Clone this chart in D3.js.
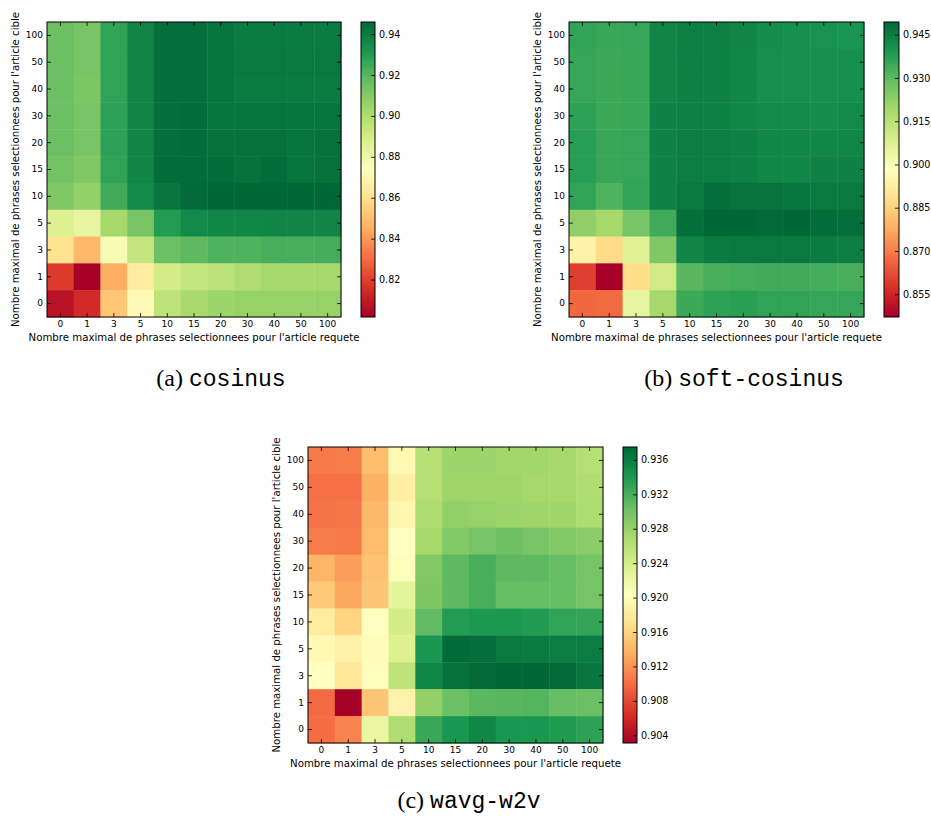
<!DOCTYPE html>
<html><head><meta charset="utf-8">
<script src="https://cdn.jsdelivr.net/npm/d3@7"></script>
<style>body{margin:0;background:#fff}svg{display:block}</style>
</head><body>
<svg id="chart" width="931" height="816"></svg>
<script>
// ---------- DATA ----------
const xCategories = ["0","1","3","5","10","15","20","30","40","50","100"];
// rows listed from top (100) to bottom (0)
const yCategoriesTopDown = ["100","50","40","30","20","15","10","5","3","1","0"];

const cosinusValues = [
  [0.9156, 0.9127, 0.9272, 0.9372, 0.9437, 0.9437, 0.9423, 0.9401, 0.9401, 0.9401, 0.9401],
  [0.9156, 0.9127, 0.9272, 0.9372, 0.9437, 0.9437, 0.9423, 0.9409, 0.9409, 0.9409, 0.9409],
  [0.9156, 0.9120, 0.9272, 0.9372, 0.9437, 0.9437, 0.9423, 0.9401, 0.9401, 0.9401, 0.9401],
  [0.9156, 0.9127, 0.9279, 0.9372, 0.9437, 0.9445, 0.9423, 0.9423, 0.9423, 0.9423, 0.9423],
  [0.9156, 0.9127, 0.9279, 0.9372, 0.9437, 0.9445, 0.9430, 0.9430, 0.9430, 0.9423, 0.9430],
  [0.9142, 0.9113, 0.9272, 0.9372, 0.9445, 0.9445, 0.9445, 0.9430, 0.9445, 0.9423, 0.9430],
  [0.9113, 0.9070, 0.9243, 0.9358, 0.9416, 0.9452, 0.9459, 0.9459, 0.9459, 0.9459, 0.9459],
  [0.8868, 0.8825, 0.9026, 0.9127, 0.9300, 0.9358, 0.9365, 0.9365, 0.9372, 0.9372, 0.9372],
  [0.8608, 0.8478, 0.8767, 0.8940, 0.9156, 0.9185, 0.9214, 0.9214, 0.9228, 0.9228, 0.9235],
  [0.8190, 0.8017, 0.8450, 0.8651, 0.8897, 0.8947, 0.8969, 0.8998, 0.9026, 0.9026, 0.9026],
  [0.8075, 0.8147, 0.8522, 0.8709, 0.8962, 0.9019, 0.9048, 0.9062, 0.9062, 0.9062, 0.9062]
];

const softCosinusValues = [
  [0.9361, 0.9351, 0.9356, 0.9433, 0.9443, 0.9443, 0.9433, 0.9417, 0.9407, 0.9402, 0.9397],
  [0.9356, 0.9346, 0.9351, 0.9433, 0.9443, 0.9438, 0.9428, 0.9407, 0.9407, 0.9407, 0.9407],
  [0.9356, 0.9346, 0.9351, 0.9433, 0.9443, 0.9438, 0.9428, 0.9407, 0.9407, 0.9407, 0.9407],
  [0.9366, 0.9346, 0.9351, 0.9438, 0.9443, 0.9438, 0.9428, 0.9422, 0.9422, 0.9417, 0.9422],
  [0.9376, 0.9351, 0.9356, 0.9438, 0.9448, 0.9448, 0.9438, 0.9428, 0.9428, 0.9428, 0.9428],
  [0.9376, 0.9351, 0.9356, 0.9438, 0.9448, 0.9448, 0.9438, 0.9428, 0.9428, 0.9438, 0.9438],
  [0.9361, 0.9320, 0.9361, 0.9438, 0.9458, 0.9479, 0.9468, 0.9468, 0.9463, 0.9458, 0.9458],
  [0.9223, 0.9187, 0.9264, 0.9341, 0.9479, 0.9494, 0.9494, 0.9489, 0.9494, 0.9484, 0.9479],
  [0.8936, 0.8870, 0.9064, 0.9248, 0.9433, 0.9453, 0.9458, 0.9458, 0.9458, 0.9453, 0.9448],
  [0.8599, 0.8471, 0.8880, 0.9100, 0.9305, 0.9330, 0.9335, 0.9341, 0.9341, 0.9335, 0.9330],
  [0.8665, 0.8670, 0.9044, 0.9187, 0.9346, 0.9366, 0.9371, 0.9361, 0.9361, 0.9356, 0.9356]
];

const wavgW2vValues = [
  [0.9107, 0.9108, 0.9145, 0.9196, 0.9260, 0.9277, 0.9277, 0.9274, 0.9274, 0.9272, 0.9262],
  [0.9102, 0.9102, 0.9136, 0.9186, 0.9262, 0.9275, 0.9275, 0.9275, 0.9272, 0.9272, 0.9265],
  [0.9103, 0.9105, 0.9141, 0.9193, 0.9267, 0.9282, 0.9280, 0.9277, 0.9275, 0.9275, 0.9267],
  [0.9108, 0.9107, 0.9143, 0.9203, 0.9272, 0.9292, 0.9298, 0.9301, 0.9296, 0.9292, 0.9287],
  [0.9139, 0.9126, 0.9148, 0.9206, 0.9291, 0.9310, 0.9320, 0.9310, 0.9310, 0.9306, 0.9298],
  [0.9153, 0.9131, 0.9151, 0.9227, 0.9294, 0.9310, 0.9320, 0.9306, 0.9306, 0.9305, 0.9298],
  [0.9182, 0.9160, 0.9203, 0.9241, 0.9308, 0.9337, 0.9340, 0.9340, 0.9338, 0.9330, 0.9329],
  [0.9196, 0.9188, 0.9200, 0.9234, 0.9341, 0.9372, 0.9370, 0.9363, 0.9361, 0.9360, 0.9360],
  [0.9203, 0.9179, 0.9201, 0.9256, 0.9353, 0.9368, 0.9373, 0.9375, 0.9375, 0.9373, 0.9365],
  [0.9098, 0.9031, 0.9150, 0.9189, 0.9282, 0.9303, 0.9311, 0.9313, 0.9315, 0.9306, 0.9303],
  [0.9100, 0.9112, 0.9222, 0.9265, 0.9327, 0.9341, 0.9353, 0.9341, 0.9341, 0.9339, 0.9332]
];

const cosinusTicks = [0.82, 0.84, 0.86, 0.88, 0.90, 0.92, 0.94];
const softCosinusTicks = [0.855, 0.870, 0.885, 0.900, 0.915, 0.930, 0.945];
const wavgW2vTicks = [0.904, 0.908, 0.912, 0.916, 0.920, 0.924, 0.928, 0.932, 0.936];

const xAxisLabel = "Nombre maximal de phrases selectionnees pour l'article requete";
const yAxisLabel = "Nombre maximal de phrases selectionnees pour l'article cible";

const captionLetters = ["(a)", "(b)", "(c)"];
const captionNames = ["cosinus", "soft-cosinus", "wavg-w2v"];

// ---------- LAYOUT ----------
const panels = [
  { values: cosinusValues, ticks: cosinusTicks, fmt: ".2f",
    plot: {x0: 47, x1: 341, y0: 22, y1: 317}, bar: {x0: 361, x1: 375, y0: 22, y1: 317},
    caption: {x: 221, y: 386} },
  { values: softCosinusValues, ticks: softCosinusTicks, fmt: ".3f",
    plot: {x0: 569, x1: 864, y0: 22, y1: 317}, bar: {x0: 884, x1: 899, y0: 22, y1: 317},
    caption: {x: 744, y: 386} },
  { values: wavgW2vValues, ticks: wavgW2vTicks, fmt: ".3f",
    plot: {x0: 308, x1: 603, y0: 447, y1: 743}, bar: {x0: 623, x1: 637, y0: 447, y1: 743},
    caption: {x: 469, y: 808} }
];

const svg = d3.select("#chart");
const cmapColors = d3.schemeRdYlGn[11]; // red -> green
const cmap = d3.piecewise(d3.interpolateRgb, cmapColors);
const defs = svg.append("defs");
const grad = defs.append("linearGradient").attr("id", "rdylgn")
  .attr("x1", 0).attr("y1", 1).attr("x2", 0).attr("y2", 0);
cmapColors.forEach((c, i) => grad.append("stop")
  .attr("offset", i / (cmapColors.length - 1)).attr("stop-color", c));

const tickFont = "DejaVu Sans, sans-serif";

panels.forEach((p, idx) => {
  const g = svg.append("g");
  const flat = p.values.flat();
  const ext = d3.extent(flat);
  const color = d3.scaleSequential(cmap).domain(ext);

  const x = d3.scaleBand().domain(xCategories).range([p.plot.x0, p.plot.x1]).padding(0);
  const y = d3.scaleBand().domain(yCategoriesTopDown).range([p.plot.y0, p.plot.y1]).padding(0);

  const cells = [];
  p.values.forEach((row, ri) => row.forEach((v, ci) =>
    cells.push({xc: xCategories[ci], yc: yCategoriesTopDown[ri], v})));

  g.append("g").selectAll("rect").data(cells).join("rect")
    .attr("x", d => x(d.xc)).attr("y", d => y(d.yc))
    .attr("width", x.bandwidth() + 0.4).attr("height", y.bandwidth() + 0.4)
    .attr("fill", d => color(d.v));

  // axes (inward ticks, classic matplotlib)
  const styleAxis = sel => {
    sel.select(".domain").remove();
    sel.selectAll(".tick line").attr("stroke", "#000").attr("stroke-width", 0.8);
    sel.selectAll(".tick text").attr("fill", "#000").style("font-family", tickFont).style("font-size", "9px");
  };
  g.append("g").attr("transform", `translate(0,${p.plot.y1})`)
    .call(d3.axisBottom(x).tickSizeInner(-4).tickSizeOuter(0).tickPadding(4)).call(styleAxis);
  g.append("g").attr("transform", `translate(0,${p.plot.y0})`)
    .call(d3.axisTop(x).tickSizeInner(-4).tickSizeOuter(0).tickFormat("")).call(styleAxis);
  g.append("g").attr("transform", `translate(${p.plot.x0},0)`)
    .call(d3.axisLeft(y).tickSizeInner(-4).tickSizeOuter(0).tickPadding(4)).call(styleAxis);
  g.append("g").attr("transform", `translate(${p.plot.x1},0)`)
    .call(d3.axisRight(y).tickSizeInner(-4).tickSizeOuter(0).tickFormat("")).call(styleAxis);

  g.append("rect").attr("x", p.plot.x0).attr("y", p.plot.y0)
    .attr("width", p.plot.x1 - p.plot.x0).attr("height", p.plot.y1 - p.plot.y0)
    .attr("fill", "none").attr("stroke", "#000").attr("stroke-width", 1);

  // axis labels
  g.append("text").attr("x", (p.plot.x0 + p.plot.x1) / 2).attr("y", p.plot.y1 + 24)
    .attr("text-anchor", "middle").style("font-family", tickFont).style("font-size", "10.2px")
    .attr("fill", "#000").text(xAxisLabel);
  const cy = (p.plot.y0 + p.plot.y1) / 2;
  g.append("text").attr("transform", `translate(${p.plot.x0 - 28.5},${cy}) rotate(-90)`)
    .attr("text-anchor", "middle").style("font-family", tickFont).style("font-size", "10.2px")
    .attr("fill", "#000").text(yAxisLabel);

  // colorbar
  const cb = d3.scaleLinear().domain(ext).range([p.bar.y1, p.bar.y0]);
  g.append("rect").attr("x", p.bar.x0).attr("y", p.bar.y0)
    .attr("width", p.bar.x1 - p.bar.x0).attr("height", p.bar.y1 - p.bar.y0)
    .attr("fill", "url(#rdylgn)");
  const cbAxis = g.append("g").attr("transform", `translate(${p.bar.x1},0)`)
    .call(d3.axisRight(cb).tickValues(p.ticks).tickFormat(d3.format(p.fmt))
      .tickSizeInner(-4).tickSizeOuter(0).tickPadding(4));
  cbAxis.select(".domain").remove();
  cbAxis.selectAll(".tick line").attr("stroke", "#000").attr("stroke-width", 0.8);
  cbAxis.selectAll(".tick text").attr("fill", "#000").style("font-family", tickFont).style("font-size", "9.6px");
  g.append("rect").attr("x", p.bar.x0).attr("y", p.bar.y0)
    .attr("width", p.bar.x1 - p.bar.x0).attr("height", p.bar.y1 - p.bar.y0)
    .attr("fill", "none").attr("stroke", "#000").attr("stroke-width", 1);

  // caption
  const cap = svg.append("text").attr("x", p.caption.x).attr("y", p.caption.y)
    .attr("text-anchor", "middle").attr("fill", "#000");
  cap.append("tspan").style("font-family", "Liberation Serif, serif").style("font-size", "24px")
    .text(captionLetters[idx] + " ");
  cap.append("tspan").style("font-family", "Liberation Mono, monospace").style("font-size", "23px")
    .text(captionNames[idx]);
});
</script>
</body></html>
